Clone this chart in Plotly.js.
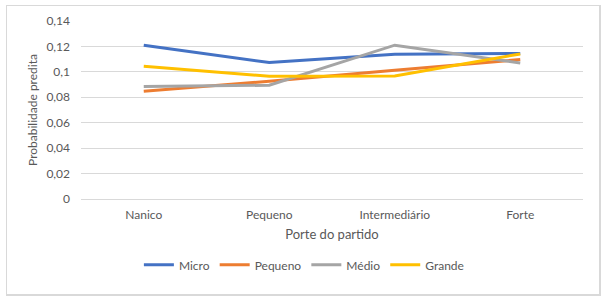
<!DOCTYPE html>
<html><head><meta charset="utf-8">
<script src="https://cdn.plot.ly/plotly-3.0.1.min.js"></script>
<style>
html,body{margin:0;padding:0;background:#fff;}
#wrap{position:relative;width:608px;height:304px;}
#chart{width:608px;height:304px;}
#frame{position:absolute;left:6px;top:5px;width:592px;height:288px;border:1px solid #d9d9d9;border-right:2px solid #d9d9d9;border-bottom:2px solid #d9d9d9;pointer-events:none;}
</style></head>
<body>
<div id="wrap"><div id="chart"></div><div id="frame"></div></div>
<script>
const categories = ["Nanico", "Pequeno", "Intermediário", "Forte"];
const micro   = [0.121, 0.1073, 0.1138, 0.1144];
const pequeno = [0.0847, 0.0926, 0.1013, 0.1097];
const medio   = [0.0884, 0.0895, 0.121, 0.107];
const grande  = [0.1044, 0.0965, 0.0968, 0.1141];
const seriesNames = ["Micro", "Pequeno", "Médio", "Grande"];
const tickVals = [0, 0.02, 0.04, 0.06, 0.08, 0.1, 0.12, 0.14];
const tickText = ["0", "0,02", "0,04", "0,06", "0,08", "0,1", "0,12", "0,14"];

const colors = ["#4472C4", "#ED7D31", "#A5A5A5", "#FFC000"];
const data = [micro, pequeno, medio, grande].map((v, i) => ({
  x: categories, y: v, type: "scatter", mode: "lines", name: seriesNames[i],
  line: {color: colors[i], width: 3}
}));
const fam = "Lato, 'Open Sans', sans-serif";
const font = {family: fam, size: 12, color: "#595959"};
const layout = {
  width: 608, height: 304,
  margin: {l: 81, r: 25, t: 21, b: 105},
  paper_bgcolor: "#fff", plot_bgcolor: "#fff",
  font: font,
  showlegend: true,
  legend: {orientation: "h", x: 0.445, xanchor: "center", y: -0.37, yanchor: "middle",
           font: {family: fam, size: 12, color: "#595959"}, traceorder: "normal"},
  xaxis: {
    type: "category", showgrid: false, zeroline: false,
    showline: false, ticks: "", tickfont: font, ticklabelstandoff: 7,
    title: {text: "Porte do partido", font: {family: fam, size: 13, color: "#595959"}, standoff: 8},
    range: [-0.5, 3.5]
  },
  yaxis: {
    range: [0, 0.14], tickvals: tickVals, ticktext: tickText,
    showgrid: true, gridcolor: "#d9d9d9", gridwidth: 1,
    zeroline: true, zerolinecolor: "#d9d9d9", zerolinewidth: 1,
    showline: false, ticks: "", ticklen: 0, tickfont: font, ticklabelstandoff: 10,
    title: {text: "Probabilidade predita", font: {family: fam, size: 12, color: "#595959"}, standoff: 6}
  }
};
Plotly.newPlot("chart", data, layout, {displayModeBar: false, staticPlot: true});
</script>
</body></html>
